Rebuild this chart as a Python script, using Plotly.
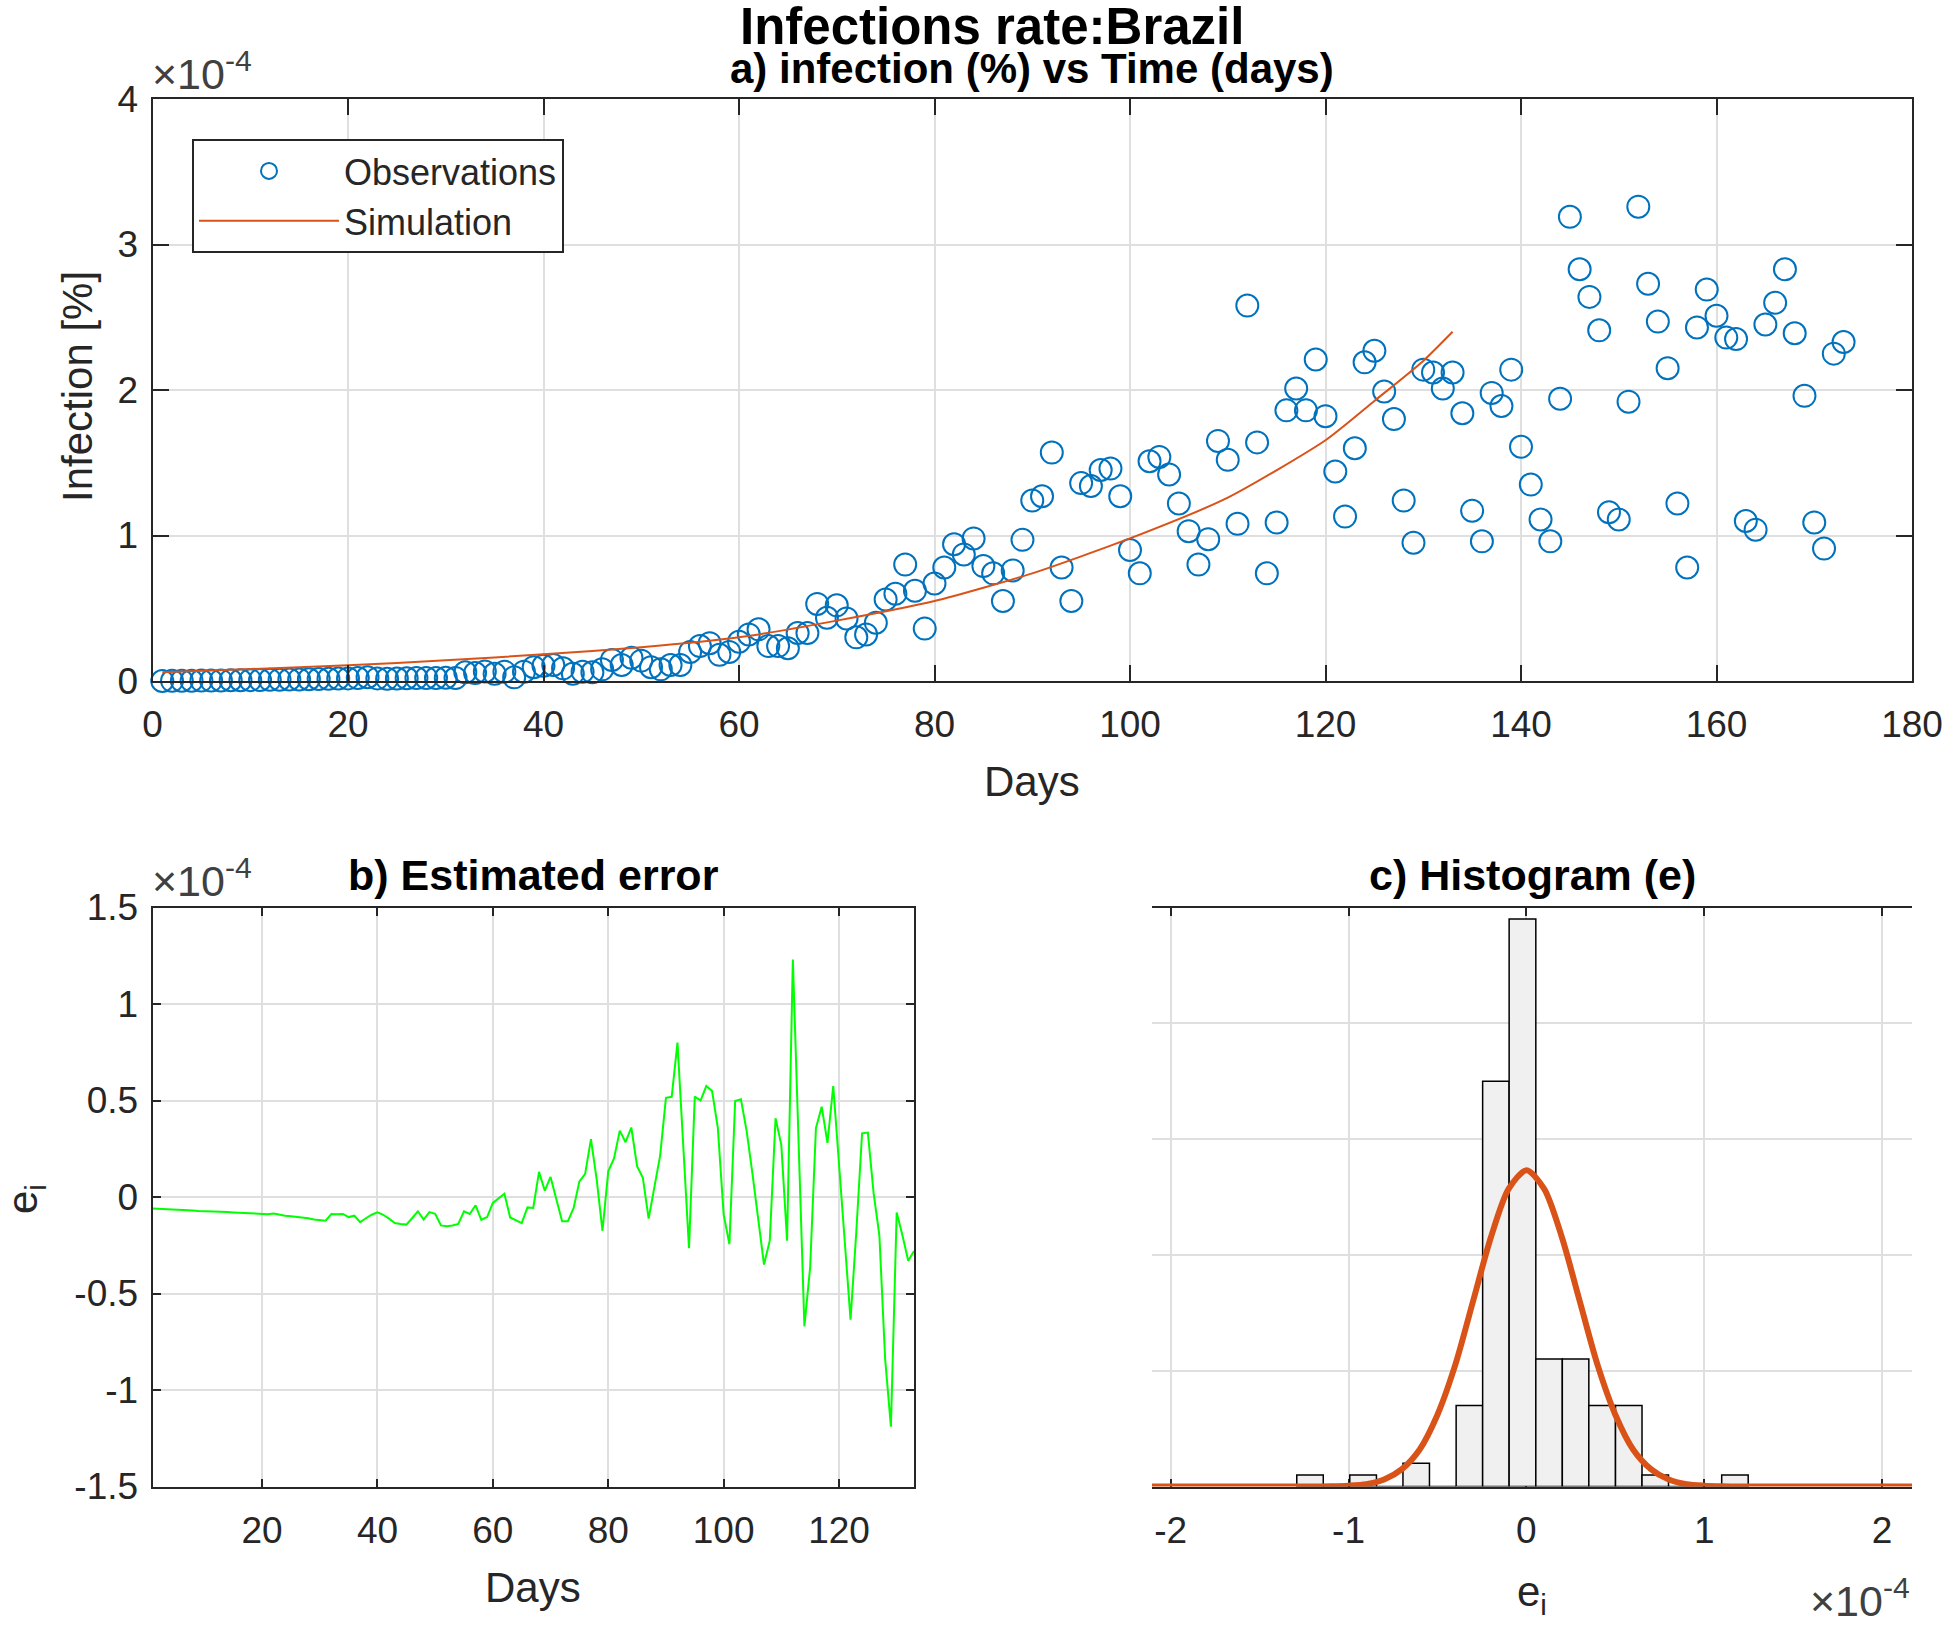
import plotly.graph_objects as go

# ---------------- data (values in units of 1e-4) ----------------
obs_days = list(range(1, 174))
obs_infection = [
    0.000, 0.001, 0.002, 0.002, 0.003, 0.003, 0.004, 0.005, 0.005, 0.006,
    0.007, 0.008, 0.009, 0.010, 0.011, 0.012, 0.014, 0.015, 0.017, 0.018,
    0.020, 0.026, 0.018, 0.015, 0.017, 0.019, 0.020, 0.021, 0.020, 0.022,
    0.020, 0.060, 0.055, 0.065, 0.050, 0.064, 0.025, 0.064, 0.095, 0.105,
    0.110, 0.087, 0.050, 0.064, 0.060, 0.080, 0.145, 0.110, 0.160, 0.140,
    0.095, 0.080, 0.110, 0.110, 0.200, 0.240, 0.260, 0.180, 0.200, 0.270,
    0.320, 0.355, 0.240, 0.240, 0.225, 0.330, 0.330, 0.530, 0.435, 0.520,
    0.430, 0.300, 0.320, 0.400, 0.560, 0.600, 0.800, 0.620, 0.360, 0.670,
    0.780, 0.940, 0.870, 0.980, 0.790, 0.740, 0.550, 0.760, 0.970, 1.240,
    1.270, 1.570, 0.780, 0.550, 1.360, 1.340, 1.450, 1.460, 1.270, 0.900,
    0.740, 1.510, 1.540, 1.420, 1.220, 1.030, 0.800, 0.975, 1.650, 1.520,
    1.080, 2.580, 1.640, 0.740, 1.090, 1.860, 2.010, 1.860, 2.210, 1.820,
    1.440, 1.130, 1.600, 2.190, 2.270, 1.990, 1.800, 1.240, 0.950, 2.140,
    2.120, 2.010, 2.120, 1.840, 1.170, 0.960, 1.980, 1.890, 2.140, 1.610,
    1.350, 1.110, 0.960, 1.940, 3.190, 2.830, 2.640, 2.410, 1.160, 1.110,
    1.920, 3.260, 2.730, 2.470, 2.150, 1.220, 0.780, 2.430, 2.690, 2.510,
    2.360, 2.350, 1.100, 1.040, 2.450, 2.600, 2.830, 2.390, 1.960, 1.090,
    0.910, 2.250, 2.330,
]

sim_days = [1, 10, 20, 30, 40, 50, 60, 70, 80, 90, 100, 110, 120, 125, 130, 133]
sim_infection = [0.060, 0.082, 0.108, 0.142, 0.183, 0.232, 0.300, 0.415,
                 0.550, 0.740, 0.980, 1.260, 1.655, 1.925, 2.200, 2.400]

err_days = list(range(1, 134))
err_values = [
    -0.060, -0.061, -0.063, -0.064, -0.066, -0.067, -0.069, -0.070, -0.072, -0.073,
    -0.075, -0.076, -0.074, -0.078, -0.080, -0.082, -0.083, -0.085, -0.087, -0.090,
    -0.089, -0.086, -0.092, -0.097, -0.100, -0.103, -0.106, -0.110, -0.117, -0.120,
    -0.123, -0.088, -0.090, -0.088, -0.104, -0.097, -0.130, -0.110, -0.092, -0.079,
    -0.092, -0.112, -0.135, -0.140, -0.143, -0.110, -0.074, -0.117, -0.078, -0.087,
    -0.147, -0.152, -0.148, -0.140, -0.074, -0.088, -0.043, -0.118, -0.104, -0.031,
    -0.005, 0.017, -0.106, -0.120, -0.135, -0.054, -0.057, 0.130, 0.033, 0.104,
    -0.010, -0.126, -0.126, -0.057, 0.081, 0.120, 0.300, 0.090, -0.175, 0.133,
    0.200, 0.344, 0.284, 0.360, 0.160, 0.099, -0.112, 0.050, 0.216, 0.514,
    0.519, 0.800, 0.270, -0.265, 0.520, 0.500, 0.575, 0.549, 0.357, -0.090,
    -0.244, 0.497, 0.506, 0.340, 0.120, -0.120, -0.350, -0.226, 0.408, 0.270,
    -0.226, 1.230, 0.280, -0.670, -0.364, 0.357, 0.468, 0.280, 0.575, 0.170,
    -0.230, -0.635, -0.180, 0.330, 0.334, 0.020, -0.200, -0.840, -1.190, -0.080,
    -0.200, -0.330, -0.280,
]

hist_edges = [-1.291, -1.142, -0.993, -0.843, -0.694, -0.545, -0.395, -0.246,
              -0.097, 0.053, 0.202, 0.351, 0.501, 0.650, 0.799, 0.949, 1.098, 1.247]
hist_counts = [1, 0, 1, 0, 2, 0, 7, 35, 49, 11, 11, 7, 7, 1, 0, 0, 1]

fit_x = [-2.105, -1.3, -1.2, -1.1, -1.0, -0.9, -0.8, -0.7, -0.6, -0.5, -0.4, -0.3,
         -0.2, -0.1, 0.0, 0.1, 0.2, 0.3, 0.4, 0.5, 0.6, 0.7, 0.8, 0.9, 1.0, 1.1,
         1.2, 1.3, 2.168]
fit_y = [0.0, 0.0, 0.005, 0.02, 0.07, 0.2, 0.6, 1.5, 3.2, 6.2, 10.5, 16.0,
         21.5, 25.7, 27.3, 25.7, 21.5, 16.0, 10.5, 6.2, 3.2, 1.5, 0.6, 0.2, 0.07,
         0.02, 0.005, 0.0, 0.0]

x_ticks_a = [0, 20, 40, 60, 80, 100, 120, 140, 160, 180]
y_ticks_a = [0, 1, 2, 3, 4]
x_ticks_b = [20, 40, 60, 80, 100, 120]
y_ticks_b = [-1.5, -1, -0.5, 0, 0.5, 1, 1.5]
y_ticktext_b = ["-1.5", "-1", "-0.5", "0", "0.5", "1", "1.5"]
x_ticks_c = [-2, -1, 0, 1, 2]
x_ticktext_c = ["-2", "-1", "0", "1", "2"]

# ---------------- layout helpers ----------------
W, H = 1944, 1625


def fx(px):
    return px / W


def fy(py):
    return 1 - py / H


FONT = "Liberation Sans, Arial, Helvetica, sans-serif"
AX = "#262626"
GRID = "#dfdfdf"
BLUE = "#0072BD"
ORANGE = "#D95319"

hist_centers = [(hist_edges[i] + hist_edges[i + 1]) / 2 for i in range(len(hist_counts))]
hist_widths = [hist_edges[i + 1] - hist_edges[i] for i in range(len(hist_counts))]

fig = go.Figure()

fig.add_trace(go.Scatter(
    x=obs_days, y=obs_infection, mode="markers", name="Observations",
    marker=dict(symbol="circle-open", size=22, color=BLUE, line=dict(width=2, color=BLUE)),
    cliponaxis=False, xaxis="x", yaxis="y"))
fig.add_trace(go.Scatter(
    x=sim_days, y=sim_infection, mode="lines", name="Simulation",
    line=dict(color=ORANGE, width=2, shape="spline", smoothing=0.6),
    xaxis="x", yaxis="y"))

fig.add_trace(go.Scatter(
    x=err_days, y=err_values, mode="lines", showlegend=False,
    line=dict(color="#00FF00", width=2), xaxis="x2", yaxis="y2"))

fig.add_trace(go.Bar(
    x=hist_centers, y=hist_counts, width=hist_widths, showlegend=False,
    marker=dict(color="#F0F0F0", line=dict(color="#000000", width=1.5)),
    xaxis="x3", yaxis="y3"))
fig.add_trace(go.Scatter(
    x=fit_x, y=fit_y, mode="lines", showlegend=False,
    line=dict(color=ORANGE, width=6, shape="spline", smoothing=0.8),
    cliponaxis=False, xaxis="x3", yaxis="y3"))


def axis(**kw):
    d = dict(showline=True, linecolor=AX, linewidth=2, mirror="ticks",
             ticks="inside", tickcolor=AX, tickwidth=2, automargin=False,
             showgrid=True, gridcolor=GRID, gridwidth=1.5, zeroline=False,
             ticklabeloverflow="allow",
             tickfont=dict(family=FONT, size=37, color=AX))
    d.update(kw)
    return d


fig.update_layout(
    width=W, height=H, margin=dict(l=0, r=0, t=0, b=0, autoexpand=False),
    paper_bgcolor="white", plot_bgcolor="white",
    font=dict(family=FONT, color=AX),
    barmode="overlay",
    xaxis=axis(domain=[fx(152.5), fx(1912)], range=[0, 180], tickvals=x_ticks_a,
               ticklen=16, anchor="y", ticklabelstandoff=10),
    yaxis=axis(domain=[fy(681), fy(99)], range=[0, 4], tickvals=y_ticks_a,
               ticklen=16, anchor="x", ticklabelstandoff=5),
    xaxis2=axis(domain=[fx(152.5), fx(914)], range=[1, 133], tickvals=x_ticks_b,
                ticklen=8, anchor="y2", ticklabelstandoff=10),
    yaxis2=axis(domain=[fy(1486.5), fy(907.5)], range=[-1.5, 1.5], tickvals=y_ticks_b,
                ticktext=y_ticktext_b, ticklen=8, anchor="x2", ticklabelstandoff=5),
    xaxis3=axis(domain=[fx(1152), fx(1912)], range=[-2.105, 2.168], tickvals=x_ticks_c,
                ticktext=x_ticktext_c, ticklen=8, anchor="y3", ticklabelstandoff=10,
                layer="below traces"),
    yaxis3=dict(domain=[fy(1486.5), fy(907.5)], range=[0, 50], dtick=10,
                showline=False, showticklabels=False, ticks="", zeroline=False,
                automargin=False,
                showgrid=True, gridcolor=GRID, gridwidth=1.5, anchor="x3"),
    legend=dict(x=fx(192), y=fy(139), xanchor="left", yanchor="top",
                bgcolor="white", bordercolor=AX, borderwidth=2,
                font=dict(family=FONT, size=36, color=AX), itemwidth=140,
                tracegroupgap=0),
)

ann = []


def text(s, x, y, size, bold=False, xa="center", ya="middle", angle=0, color="#000000"):
    ann.append(dict(text=("<b>%s</b>" % s) if bold else s, x=fx(x), y=fy(y),
                    xref="paper", yref="paper", xanchor=xa, yanchor=ya,
                    showarrow=False, textangle=angle,
                    font=dict(family=FONT, size=size, color=color)))


text("Infections rate:Brazil", 992, 26, 51, bold=True)
text("a) infection (%) vs Time (days)", 1032, 68, 42, bold=True)
text("b) Estimated error", 533, 875, 43, bold=True)
text("c) Histogram (e)", 1532, 875, 43, bold=True)
text("Days", 1032, 781, 42, color=AX)
text("Days", 533, 1587, 42, color=AX)
text("Infection [%]", 77, 387, 42, angle=-90, color=AX)
text("e<sub>i</sub>", 25, 1199, 42, angle=-90, color=AX)
text("e<sub>i</sub>", 1532, 1594, 42, color=AX)
text("×10<sup>-4</sup>", 150, 100, 43, xa="left", ya="bottom", color="#404040")
text("×10<sup>-4</sup>", 150, 907, 43, xa="left", ya="bottom", color="#404040")
text("×10<sup>-4</sup>", 1912, 1627, 43, xa="right", ya="bottom", color="#404040")

fig.update_layout(annotations=ann)

fig.write_html("out.html", config={"displayModeBar": False},
               post_script="document.body.style.margin='0px';")
